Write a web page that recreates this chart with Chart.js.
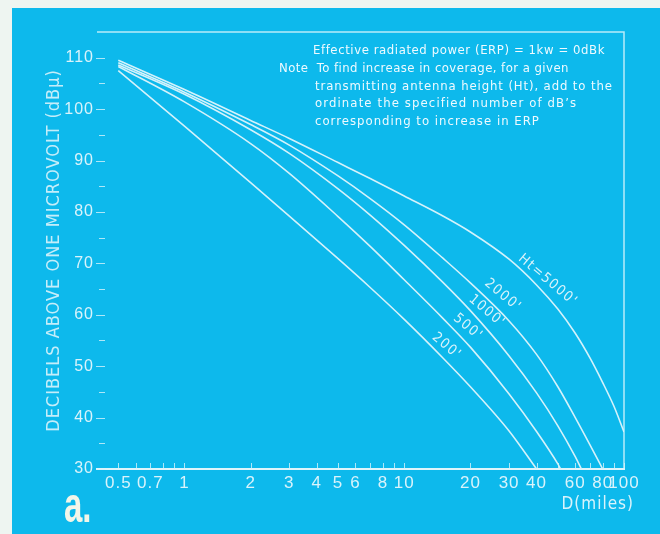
<!DOCTYPE html>
<html>
<head>
<meta charset="utf-8">
<script src="https://cdn.jsdelivr.net/npm/chart.js@4.4.1/dist/chart.umd.min.js"></script>
<style>
  html, body { margin: 0; padding: 0; background: #eef5f1; }
  canvas { display: block; }
</style>
</head>
<body>
<canvas id="chart" width="660" height="534"></canvas>
<script>
// Field strength (dB above 1 µV) against distance, one curve per antenna height, ERP = 1 kW
const heightLabels = ["200'", "500'", "1000'", "2000'", "Ht=5000'"];

const dist200   = [0.5, 1, 2, 3, 5, 7, 10, 15, 20, 30, 40];
const field200  = [107.5, 96.7, 85.7, 79.2, 70.9, 65.3, 59.1, 51.6, 46.0, 37.4, 30.0];

const dist500   = [0.5, 1, 2, 3, 5, 7, 10, 15, 20, 30, 40, 50, 51.5];
const field500  = [108.3, 101.4, 93.3, 87.5, 79.1, 73.3, 66.8, 59.3, 53.7, 44.6, 37.3, 31.0, 30.0];

const dist1000  = [0.5, 1, 2, 3, 5, 7, 10, 15, 20, 30, 40, 50, 60, 64];
const field1000 = [108.6, 102.9, 96.0, 91.4, 84.5, 79.4, 73.5, 66.3, 60.8, 52.0, 44.8, 38.4, 32.4, 30.0];

const dist2000  = [0.5, 1, 2, 3, 5, 7, 10, 15, 20, 30, 40, 50, 60, 70, 80];
const field2000 = [109.0, 103.3, 97.0, 93.0, 87.0, 82.6, 77.5, 71.0, 66.2, 58.8, 52.3, 46.0, 40.0, 34.7, 30.0];

const dist5000  = [0.5, 1, 2, 3, 5, 7, 10, 15, 20, 30, 40, 50, 60, 70, 80, 90, 100];
const field5000 = [109.5, 103.8, 97.8, 94.3, 89.6, 86.5, 83.1, 79.2, 76.1, 70.8, 65.8, 61.1, 56.4, 51.6, 46.8, 42.2, 37.2];

// where each curve's height label sits (distance, dB)
const labelDist  = [15.6, 19.5, 23.8, 28.1, 45];
const labelField = [53.9, 57.6, 60.7, 63.8, 66.7];

// axis ticks
const xTickValues = [0.5, 0.7, 1, 2, 3, 4, 5, 6, 8, 10, 20, 30, 40, 60, 80, 100];
const xTickLabels = ['0.5', '0.7', '1', '2', '3', '4', '5', '6', '8', '10', '20', '30', '40', '60', '80', '100'];
const xMinorTicks = [0.6, 0.8, 0.9, 7, 9, 50, 70, 90];
const yTickValues = [30, 40, 50, 60, 70, 80, 90, 100, 110];
const yTickLabels = ['30', '40', '50', '60', '70', '80', '90', '100', '110'];
const yMinorTicks = [35, 45, 55, 65, 75, 85, 95, 105];

const noteLines = [
  'Effective radiated power (ERP) = 1kw = 0dBk',
  'Note  To find increase in coverage, for a given',
  'transmitting antenna height (Ht), add to the',
  'ordinate the specified number of dB\u2019s',
  'corresponding to increase in ERP'
];

const FONT = '"Liberation Sans Narrow", "DejaVu Sans Condensed", "Liberation Sans", sans-serif';
const TICKFONT = '"Liberation Sans", Arial, sans-serif';
const INK = '#d9f3fb';
const CURVE = '#d4f2fb';
const BLUE = '#0db9ec';

const series = [
  [dist200, field200], [dist500, field500], [dist1000, field1000],
  [dist2000, field2000], [dist5000, field5000]
];

const datasets = series.map(([d, f], i) => ({
  label: heightLabels[i],
  data: d.map((x, k) => ({ x, y: f[k] })),
  borderColor: CURVE,
  borderWidth: 1.6,
  pointRadius: 0,
  fill: false,
  cubicInterpolationMode: 'monotone'
}));

const decor = {
  id: 'decor',
  beforeDraw(chart) {
    const { ctx, width, height } = chart;
    ctx.save();
    ctx.fillStyle = '#eef5f1';
    ctx.fillRect(0, 0, width, height);
    ctx.fillStyle = BLUE;
    ctx.fillRect(12, 8, width - 12, height - 8);
    ctx.restore();
    ctx.letterSpacing = '1px';
  },
  afterDatasetsDraw(chart) {
    const { ctx, chartArea: a, scales: { x, y } } = chart;
    ctx.save();
    ctx.letterSpacing = '0px';

    // frame: top and right edges
    ctx.strokeStyle = 'rgba(215,243,251,0.85)';
    ctx.lineWidth = 1.5;
    ctx.beginPath();
    ctx.moveTo(a.left, a.top);
    ctx.lineTo(a.right, a.top);
    ctx.lineTo(a.right, a.bottom);
    ctx.stroke();

    // inward tick marks
    ctx.strokeStyle = 'rgba(215,243,251,0.8)';
    ctx.lineWidth = 1;
    ctx.beginPath();
    xTickValues.concat(xMinorTicks).forEach(v => {
      const px = Math.round(x.getPixelForValue(v)) + 0.5;
      ctx.moveTo(px, a.bottom - 6);
      ctx.lineTo(px, a.bottom);
    });
    yTickValues.forEach(v => {
      const py = Math.round(y.getPixelForValue(v)) + 0.5;
      ctx.moveTo(a.left - 1, py);
      ctx.lineTo(a.left + 8, py);
    });
    yMinorTicks.forEach(v => {
      const py = Math.round(y.getPixelForValue(v)) + 0.5;
      ctx.moveTo(a.left + 2, py);
      ctx.lineTo(a.left + 8, py);
    });
    ctx.stroke();

    // curve labels
    ctx.fillStyle = INK;
    ctx.font = '14px ' + FONT;
    ctx.letterSpacing = '1.5px';
    ctx.textAlign = 'center';
    ctx.textBaseline = 'middle';
    heightLabels.forEach((t, i) => {
      ctx.save();
      ctx.translate(x.getPixelForValue(labelDist[i]), y.getPixelForValue(labelField[i]));
      ctx.rotate(40 * Math.PI / 180);
      ctx.fillText(t, 0, 0);
      ctx.restore();
    });

    // explanatory note
    const notePos = [[313, 51, 292], [279, 69, 290], [315, 87, 298], [315, 104, 262], [315, 122, 225]];
    ctx.fillStyle = '#eefaff';
    ctx.font = '13px ' + FONT;
    ctx.textAlign = 'left';
    noteLines.forEach((t, i) => {
      const [nx, ny, w] = notePos[i];
      ctx.letterSpacing = '0px';
      const plain = ctx.measureText(t).width;
      const ls = Math.max(0, (w - plain) / t.length);
      ctx.letterSpacing = ls.toFixed(2) + 'px';
      ctx.fillText(t, nx, ny);
    });

    // x axis title
    ctx.letterSpacing = '1px';
    ctx.fillStyle = INK;
    ctx.font = '17px ' + FONT;
    ctx.textAlign = 'right';
    ctx.fillText('D(miles)', 634, 505);

    // panel letter
    ctx.letterSpacing = '0px';
    ctx.fillStyle = '#f3f6e9';
    ctx.font = 'bold 50px "Liberation Sans", "DejaVu Sans", sans-serif';
    ctx.textAlign = 'left';
    ctx.textBaseline = 'alphabetic';
    ctx.save();
    ctx.translate(64, 522);
    ctx.scale(0.66, 1);
    ctx.fillText('a.', 0, 0);
    ctx.restore();

    ctx.restore();
  }
};

new Chart(document.getElementById('chart'), {
  type: 'line',
  data: { datasets },
  plugins: [decor],
  options: {
    responsive: false,
    animation: false,
    devicePixelRatio: 1,
    layout: { padding: { top: 32, right: 36, left: 0, bottom: 0 } },
    plugins: { legend: { display: false }, tooltip: { enabled: false } },
    scales: {
      x: {
        type: 'logarithmic',
        min: 0.4,
        max: 100,
        bounds: 'data',
        afterBuildTicks: s => { s.ticks = xTickValues.map(v => ({ value: v })); },
        afterFit: s => { s.height = 65; },
        ticks: {
          autoSkip: false,
          maxRotation: 0,
          minRotation: 0,
          padding: 4,
          color: INK,
          font: { family: TICKFONT, size: 17 },
          callback: v => xTickLabels[xTickValues.indexOf(v)]
        },
        grid: { display: false, drawTicks: false },
        border: { display: true, color: '#def5fb', width: 2 }
      },
      y: {
        type: 'linear',
        min: 30,
        max: 115,
        bounds: 'data',
        afterBuildTicks: s => { s.ticks = yTickValues.map(v => ({ value: v })); },
        afterFit: s => { s.width = 97; },
        ticks: {
          padding: 3,
          color: INK,
          font: { family: TICKFONT, size: 16 },
          callback: v => yTickLabels[yTickValues.indexOf(v)]
        },
        grid: { display: false, drawTicks: false },
        border: { display: false },
        title: {
          display: true,
          text: 'DECIBELS ABOVE ONE MICROVOLT (dB\u03bc)',
          color: 'rgba(217,243,251,0.9)',
          font: { family: FONT, size: 18 },
          padding: { top: 44, bottom: 0 }
        }
      }
    }
  }
});
</script>
</body>
</html>
